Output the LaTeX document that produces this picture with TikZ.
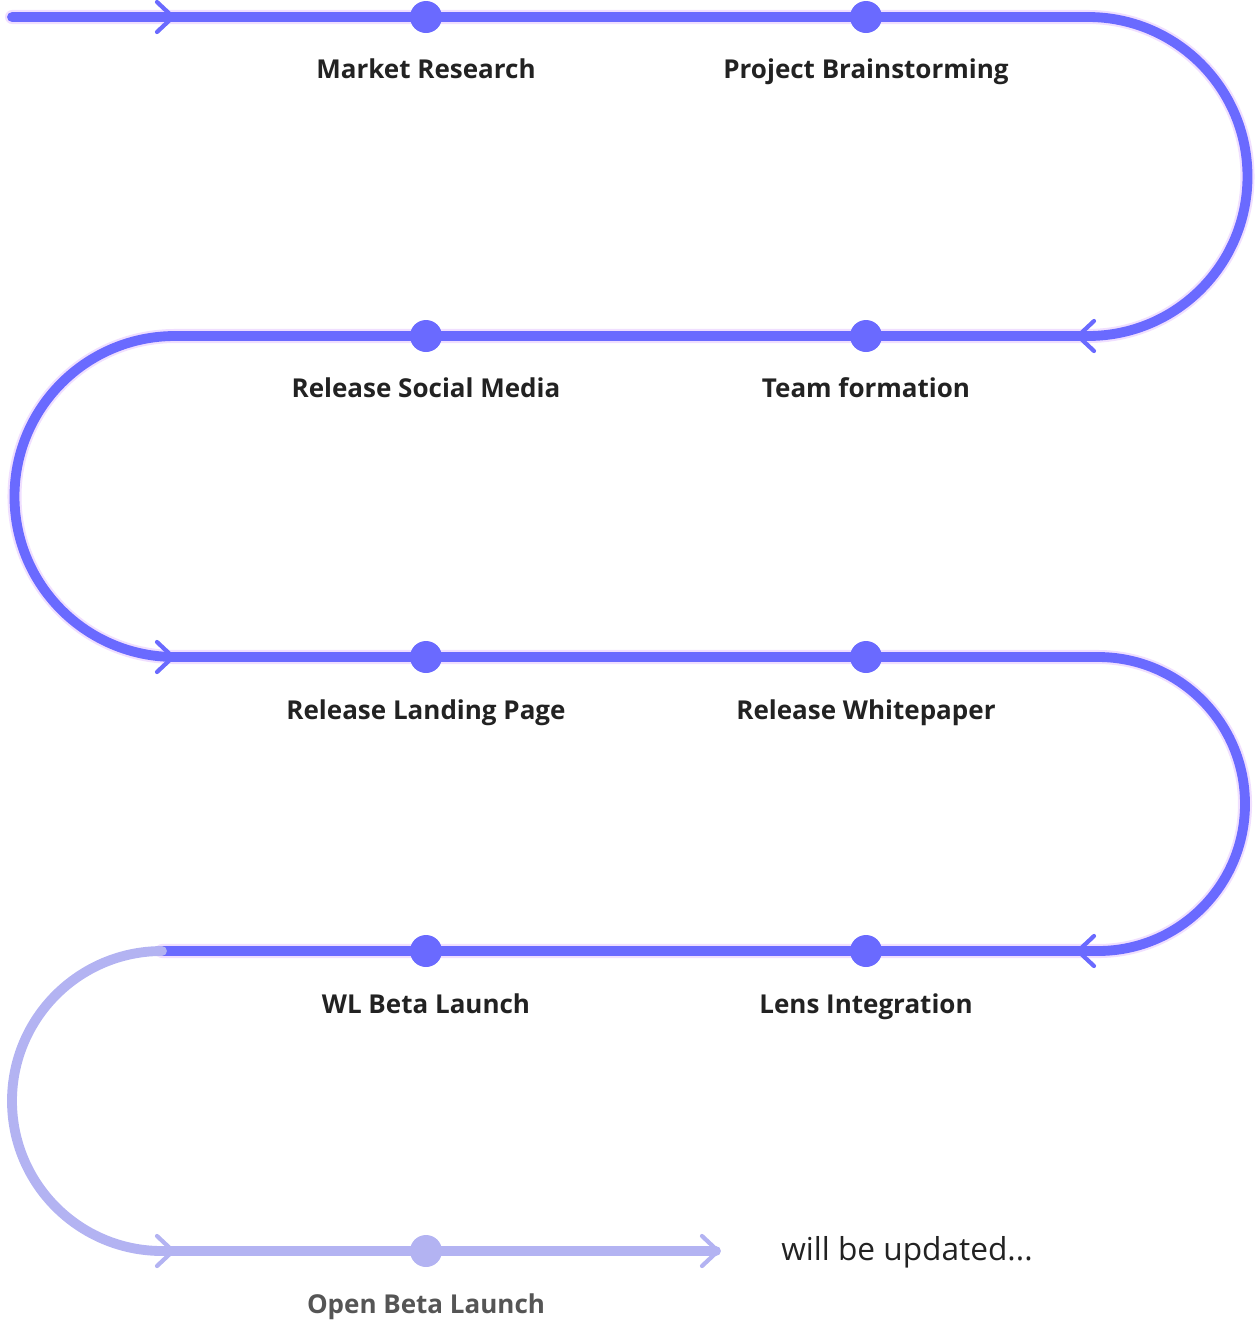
\documentclass[tikz,border=0pt]{standalone}
\usepackage{fontspec}
\setmainfont{Open Sans}
\usetikzlibrary{positioning,calc}
\definecolor{route}{HTML}{6A6AFF}
\definecolor{routelt}{HTML}{B3B3F2}
\definecolor{glow}{HTML}{EAD2FF}
\definecolor{labelink}{HTML}{222222}
\definecolor{labelgray}{HTML}{555555}
\tikzset{
  road/.style={draw=route,line width=5.6pt,line cap=round},
  roadlt/.style={road,draw=routelt},
  halo/.style={draw=glow,line width=8pt,line cap=round,opacity=0.7},
  stop/.style={circle,fill=route,inner sep=0pt,minimum size=0.64cm},
  stoplt/.style={stop,fill=routelt},
  chev/.style={draw=route,line width=2.4pt,line cap=round,line join=round},
  chevlt/.style={chev,draw=routelt},
  stoplabel/.style={anchor=base,font=\bfseries\fontsize{14.8}{17}\selectfont,text=labelink},
  notelabel/.style={font=\fontsize{18}{21}\selectfont,text=labelink}
}

\begin{document}
\begin{tikzpicture}[x=0.02cm,y=-0.02cm]
  \useasboundingbox (0,0) rectangle (1260,1320);
  % turning points of the route
  \coordinate (go)   at (12,17);
  \coordinate (t1)   at (1088,17);
  \coordinate (t2)   at (1088,336);
  \coordinate (t3)   at (175,336);
  \coordinate (t4)   at (175,657);
  \coordinate (t5)   at (1098,657);
  \coordinate (t6)   at (1098,951);
  \coordinate (t7)   at (162,951);
  \coordinate (t8)   at (162,1251);
  \coordinate (fin)  at (716,1251);
  % soft glow under the done part
  \draw[halo,yshift=-3pt] (go) -- (t1) arc[start angle=-90,end angle=90,radius=159.5]
    -- (t3) arc[start angle=-90,end angle=-270,radius=160.5]
    -- (t5) arc[start angle=-90,end angle=90,radius=147] -- (t7);
  \draw[road] (go) -- (t1) arc[start angle=-90,end angle=90,radius=159.5]
    -- (t3) arc[start angle=-90,end angle=-270,radius=160.5]
    -- (t5) arc[start angle=-90,end angle=90,radius=147] -- (t7);
  \draw[roadlt] (t7) arc[start angle=-90,end angle=-270,radius=150] -- (fin);
  % chevrons
  \foreach \x/\y/\d in {173/17/1, 1078/336/-1, 173/657/1, 1078/951/-1}
    \draw[chev] (\x-16*\d,\y-15) -- (\x,\y) -- (\x-16*\d,\y+15);
  \foreach \x/\y in {173/1251, 718/1251}
    \draw[chevlt] (\x-16,\y-15) -- (\x,\y) -- (\x-16,\y+15);
  % stops
  \foreach \n/\x/\y/\t in {mr/426/17/Market Research, pb/866/17/Project Brainstorming,
      tf/866/336/Team formation, sm/426/336/Release Social Media,
      lp/426/657/Release Landing Page, wp/866/657/Release Whitepaper,
      li/866/951/Lens Integration, wl/426/951/WL Beta Launch}{
    \node[stop] (\n) at (\x,\y) {};
    \node[stoplabel] (\n-l) at ([yshift=-1.24cm]\n) {\t};
  }
  \node[stoplt] (ob) at (426,1251) {};
  \node[stoplabel,text=labelgray] (ob-l) at ([yshift=-1.24cm]ob) {Open Beta Launch};
  \node[notelabel] (wbu) at (907,1252) {will be updated...};
\end{tikzpicture}
\end{document}
